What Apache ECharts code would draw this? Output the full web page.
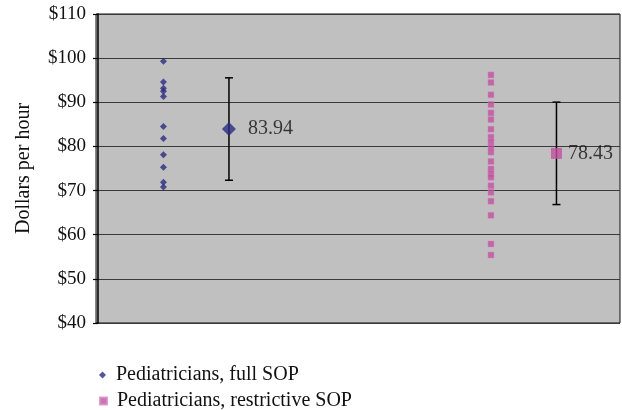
<!DOCTYPE html>
<html>
<head>
<meta charset="utf-8">
<script src="https://cdn.jsdelivr.net/npm/echarts@6/dist/echarts.min.js"></script>
<style>
  html, body { margin: 0; padding: 0; background: #fff; }
  #chart { width: 622px; height: 410px; }
</style>
</head>
<body>
<div id="chart"></div>
<script>
// ---- data ----
const seriesNames = ['Pediatricians, full SOP', 'Pediatricians, restrictive SOP'];
const fullSOP = [99.3, 94.6, 93.2, 92.5, 91.3, 84.5, 81.8, 78.1, 75.3, 71.9, 70.8];
const restrictiveSOP = [96.2, 94.5, 91.7, 89.5, 87.6, 86.1, 83.9, 82.1, 81.0, 79.8, 78.7,
  76.6, 74.9, 73.8, 73.0, 71.1, 69.6, 67.6, 64.4, 57.9, 55.4];
const means = [83.94, 78.43];
const errLow = [72.34, 66.83];
const errHigh = [95.54, 90.03];
const yTicks = [40, 50, 60, 70, 80, 90, 100, 110];

// ---- layout (group slots on a hidden x scale) ----
const pointSlot = [1, 6];
const meanSlot = [2, 7];
const colors = ['#2a2a80', '#c0509f'];
const FONT = 'Liberation Serif';

const chart = echarts.init(document.getElementById('chart'));

const ptsFull = fullSOP.map(v => [pointSlot[0], v]);
const ptsRestr = restrictiveSOP.map(v => [pointSlot[1], v]);

const errData = means.map((m, i) => [meanSlot[i], errLow[i], errHigh[i]]);

const legendText = { fontFamily: FONT, fontSize: 20, color: '#111', padding: [0, 0, 0, 5] };

const option = {
  animation: false,
  backgroundColor: '#ffffff',
  textStyle: { fontFamily: FONT },
  grid: {
    left: 96, top: 14, right: 2, bottom: 87,
    show: true, backgroundColor: '#c0c0c0', borderColor: '#111', borderWidth: 1
  },
  legend: [
    {
      orient: 'vertical', left: 94, top: 360,
      itemWidth: 7, itemHeight: 7,
      textStyle: legendText,
      data: [{ name: seriesNames[0], icon: 'diamond', itemStyle: { color: colors[0] } }]
    },
    {
      orient: 'vertical', left: 94, top: 386,
      itemWidth: 7, itemHeight: 7,
      textStyle: legendText,
      data: [{ name: seriesNames[1], icon: 'rect', itemStyle: { color: colors[1] } }]
    }
  ],
  xAxis: {
    type: 'value', min: -0.03, max: 7.97,
    show: false, splitLine: { show: false }
  },
  yAxis: {
    type: 'value', min: yTicks[0], max: yTicks[yTicks.length - 1], interval: 10,
    name: 'Dollars per hour', nameLocation: 'middle', nameRotate: 90, nameGap: 62,
    nameTextStyle: { fontFamily: FONT, fontSize: 20, color: '#111' },
    axisLine: { show: true, lineStyle: { color: '#000', width: 1.5 } },
    axisTick: { show: true, length: 5, lineStyle: { color: '#000', width: 1.2 } },
    axisLabel: {
      formatter: v => '$' + v, fontFamily: FONT, fontSize: 19, color: '#111', margin: 10
    },
    splitLine: { show: true, lineStyle: { color: '#3a3a3a', width: 1 } }
  },
  series: [
    {
      name: seriesNames[0], type: 'scatter', data: ptsFull,
      symbol: 'diamond', symbolSize: 7, itemStyle: { color: colors[0] }, z: 3
    },
    {
      name: seriesNames[1], type: 'scatter', data: ptsRestr,
      symbol: 'rect', symbolSize: 6, itemStyle: { color: colors[1], borderColor: '#d48cc2', borderWidth: 0.5 }, z: 3
    },
    {
      type: 'custom', name: 'err', data: errData, z: 4,
      renderItem: (params, api) => {
        const x = api.value(0);
        const lo = api.coord([x, api.value(1)]);
        const hi = api.coord([x, api.value(2)]);
        const cap = 4;
        const style = { stroke: '#000', lineWidth: 1.5 };
        return {
          type: 'group',
          children: [
            { type: 'line', shape: { x1: lo[0], y1: lo[1], x2: hi[0], y2: hi[1] }, style },
            { type: 'line', shape: { x1: hi[0] - cap, y1: hi[1], x2: hi[0] + cap, y2: hi[1] }, style },
            { type: 'line', shape: { x1: lo[0] - cap, y1: lo[1], x2: lo[0] + cap, y2: lo[1] }, style }
          ]
        };
      }
    },
    {
      name: seriesNames[0], type: 'scatter', z: 5,
      data: [[meanSlot[0], means[0]]],
      symbol: 'diamond', symbolSize: 14, itemStyle: { color: colors[0] },
      label: { show: true, position: 'right', distance: 12, formatter: p => p.value[1].toFixed(2),
        fontFamily: FONT, fontSize: 20, color: '#111' }
    },
    {
      name: seriesNames[1], type: 'scatter', z: 5,
      data: [[meanSlot[1], means[1]]],
      symbol: 'rect', symbolSize: 11, itemStyle: { color: colors[1] },
      label: { show: true, position: 'right', distance: 6, formatter: p => p.value[1].toFixed(2),
        fontFamily: FONT, fontSize: 20, color: '#111' }
    }
  ]
};
chart.setOption(option);
</script>
</body>
</html>
